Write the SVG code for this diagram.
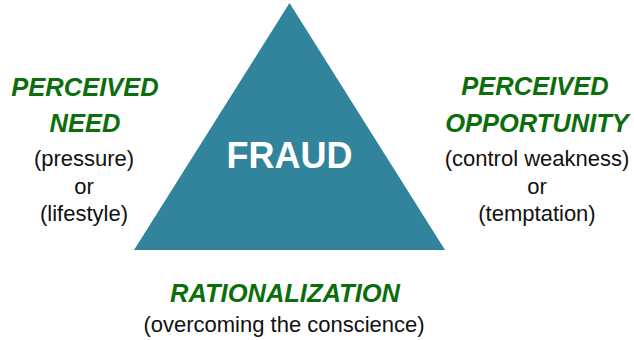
<svg xmlns="http://www.w3.org/2000/svg" width="634" height="340" viewBox="0 0 634 340">
  <style>
    .head { font-family: "Liberation Sans", Arial, sans-serif; font-size: 25.5px; font-weight: bold; font-style: italic; fill: #0B6E0B; text-anchor: middle; }
    .note { font-family: "Liberation Sans", Arial, sans-serif; font-size: 22px; fill: #111111; text-anchor: middle; }
    .core { font-family: "Liberation Sans", Arial, sans-serif; font-size: 36px; font-weight: bold; fill: #FFFFFF; text-anchor: middle; }
  </style>
  <rect width="634" height="340" fill="#FFFFFF"/>

  <!-- central triangle -->
  <g id="fraud">
    <polygon points="289.5,3 134,250 445,250" fill="#31849B"/>
    <text class="core" x="289.5" y="168">FRAUD</text>
  </g>

  <!-- left corner: need -->
  <g id="need">
    <text class="head" x="85" y="96">PERCEIVED</text>
    <text class="head" x="85" y="132">NEED</text>
    <text class="note" x="84" y="166">(pressure)</text>
    <text class="note" x="84" y="193.5">or</text>
    <text class="note" x="84" y="221">(lifestyle)</text>
  </g>

  <!-- right corner: opportunity -->
  <g id="opportunity">
    <text class="head" x="535" y="95">PERCEIVED</text>
    <text class="head" x="537" y="132">OPPORTUNITY</text>
    <text class="note" x="537" y="166">(control weakness)</text>
    <text class="note" x="537" y="193.5">or</text>
    <text class="note" x="537" y="221">(temptation)</text>
  </g>

  <!-- bottom: rationalization -->
  <g id="rationalization">
    <text class="head" x="285" y="302">RATIONALIZATION</text>
    <text class="note" x="284" y="332">(overcoming the conscience)</text>
  </g>

  <g id="connectors"/>
</svg>
